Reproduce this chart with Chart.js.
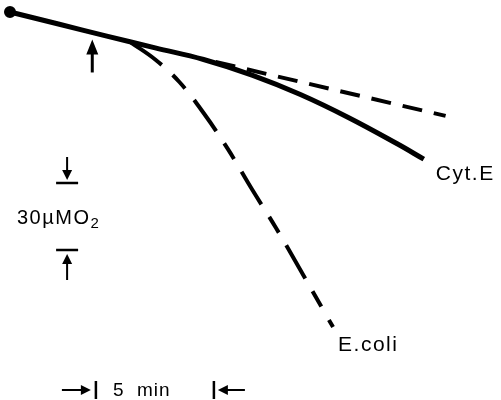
<!DOCTYPE html>
<html>
<head>
<meta charset="utf-8">
<script src="https://cdn.jsdelivr.net/npm/chart.js@4.4.1/dist/chart.umd.min.js"></script>
<style>
  html, body { margin: 0; padding: 0; background: #fff; }
  #wrap { width: 501px; height: 400px; }
</style>
</head>
<body>
<div id="wrap"><canvas id="chart" width="501" height="400"></canvas></div>
<script>
// Oxygen traces: time in minutes, O2 in µM
const cytTime = [0, 2, 4, 6, 8, 10, 12, 14, 16, 17.1];
const cytO2 = [240, 234.6, 229.2, 223.9, 218.7, 211.7, 203.0, 192.6, 180.9, 174.0];

const ctrlTime = [8.5, 18];
const ctrlO2 = [217.6, 193.4];

const ecoliTime = [5, 6, 7, 8, 9, 10, 11, 12, 13, 13.35];
const ecoliO2 = [226.3, 218.7, 208.6, 194.7, 178.6, 160.5, 143, 124.3, 105.3, 98.7];

const additionTime = 3.4;
const seriesLabels = ["Cyt.E", "E.coli"];

// scale bars
const barO2 = 30;          // µM
const barO2Top = 163.3;
const barO2Time = 2.36;
const barMin = 5;          // min
const barMinStart = 3.55;
const barMinO2 = 70.5;

const toXY = (xs, ys) => xs.map((x, i) => ({ x: x, y: ys[i] }));

function arrowHead(ctx, x, y, ang, len, half) {
  ctx.beginPath();
  ctx.moveTo(x, y);
  ctx.lineTo(x - len * Math.cos(ang) + half * Math.sin(ang), y - len * Math.sin(ang) - half * Math.cos(ang));
  ctx.lineTo(x - len * Math.cos(ang) - half * Math.sin(ang), y - len * Math.sin(ang) + half * Math.cos(ang));
  ctx.closePath();
  ctx.fill();
}

const notes = {
  id: "notes",
  afterDatasetsDraw(chart) {
    const { ctx, scales } = chart;
    const xs = scales.x, ys = scales.y;
    ctx.save();
    ctx.fillStyle = "#000";
    ctx.strokeStyle = "#000";
    ctx.lineCap = "butt";

    // addition arrow under the trace
    const ax = xs.getPixelForValue(additionTime);
    const ay = ys.getPixelForValue(240 - (240 - 229.2) * additionTime / 4) + 7;
    ctx.lineWidth = 3;
    ctx.beginPath();
    ctx.moveTo(ax, ay + 33);
    ctx.lineTo(ax, ay + 10);
    ctx.stroke();
    arrowHead(ctx, ax, ay, -Math.PI / 2, 15, 6);

    // series labels at line ends
    ctx.font = "21px 'Liberation Sans', Arial, sans-serif";
    ctx.letterSpacing = "1.5px";
    ctx.textBaseline = "alphabetic";
    ctx.textAlign = "left";
    const cEnd = cytTime.length - 1;
    ctx.fillText(seriesLabels[0], xs.getPixelForValue(cytTime[cEnd]) + 12, ys.getPixelForValue(cytO2[cEnd]) + 21);
    const eEnd = ecoliTime.length - 1;
    ctx.fillText(seriesLabels[1], xs.getPixelForValue(ecoliTime[eEnd]) + 5, ys.getPixelForValue(ecoliO2[eEnd]) + 24);

    // vertical scale bar: 30 µM O2
    const bx = xs.getPixelForValue(barO2Time);
    const bTop = ys.getPixelForValue(barO2Top);
    const bBot = ys.getPixelForValue(barO2Top - barO2);
    ctx.lineWidth = 2.5;
    ctx.beginPath();
    ctx.moveTo(bx - 11, bTop); ctx.lineTo(bx + 11, bTop);
    ctx.moveTo(bx - 11, bBot); ctx.lineTo(bx + 11, bBot);
    ctx.stroke();
    ctx.lineWidth = 2;
    ctx.beginPath();
    ctx.moveTo(bx, bTop - 26); ctx.lineTo(bx, bTop - 8);
    ctx.moveTo(bx, bBot + 9); ctx.lineTo(bx, bBot + 30);
    ctx.stroke();
    arrowHead(ctx, bx, bTop - 3, Math.PI / 2, 10, 5);
    arrowHead(ctx, bx, bBot + 4, -Math.PI / 2, 10, 5);
    ctx.letterSpacing = "1.5px";
    ctx.font = "20px 'Liberation Sans', Arial, sans-serif";
    const ly = (bTop + bBot) / 2 + 8;
    const lx = 17;
    ctx.fillText("30µMO", lx, ly);
    const w = ctx.measureText("30µMO").width;
    ctx.font = "15px 'Liberation Sans', Arial, sans-serif";
    ctx.fillText("2", lx + w, ly + 4);

    // horizontal scale bar: 5 min
    const hx1 = xs.getPixelForValue(barMinStart);
    const hx2 = xs.getPixelForValue(barMinStart + barMin);
    const hy = ys.getPixelForValue(barMinO2);
    ctx.lineWidth = 2.5;
    ctx.beginPath();
    ctx.moveTo(hx1, hy - 9); ctx.lineTo(hx1, hy + 9);
    ctx.moveTo(hx2 - 3, hy - 9); ctx.lineTo(hx2 - 3, hy + 9);
    ctx.stroke();
    ctx.lineWidth = 2;
    ctx.beginPath();
    ctx.moveTo(hx1 - 34, hy); ctx.lineTo(hx1 - 10, hy);
    ctx.moveTo(hx2 + 6, hy); ctx.lineTo(hx2 + 28, hy);
    ctx.stroke();
    arrowHead(ctx, hx1 - 5, hy, 0, 10, 5);
    arrowHead(ctx, hx2 + 1, hy, Math.PI, 10, 5);
    ctx.font = "19px 'Liberation Sans', Arial, sans-serif";
    ctx.letterSpacing = "1px";
    ctx.textAlign = "left";
    ctx.textBaseline = "middle";
    ctx.fillText("5  min", hx1 + 17, hy + 1);
    ctx.restore();
  }
};

new Chart(document.getElementById("chart"), {
  type: "scatter",
  data: {
    datasets: [
      {
        label: "Cyt.E",
        data: toXY(cytTime, cytO2),
        showLine: true,
        borderColor: "#000",
        backgroundColor: "#000",
        borderWidth: 5,
        tension: 0.4,
        pointRadius: (c) => (c.dataIndex === 0 ? 3.5 : 0),
      },
      {
        label: "control",
        data: toXY(ctrlTime, ctrlO2),
        showLine: true,
        borderColor: "#000",
        borderWidth: 4,
        borderDash: [20, 12],
        pointRadius: 0,
      },
      {
        label: "E.coli",
        data: toXY(ecoliTime, ecoliO2),
        showLine: true,
        borderColor: "#000",
        borderWidth: 4,
        borderDash: [38, 15, 18, 15],
        tension: 0.4,
        pointRadius: 0,
      },
    ],
  },
  options: {
    responsive: false,
    animation: false,
    layout: { padding: 0, autoPadding: false },
    plugins: { legend: { display: false }, tooltip: { enabled: false } },
    scales: {
      x: { type: "linear", display: false, min: -0.413, max: 20.29 },
      y: { type: "linear", display: false, min: 66.01, max: 245.38 },
    },
  },
  plugins: [notes],
});
</script>
</body>
</html>
